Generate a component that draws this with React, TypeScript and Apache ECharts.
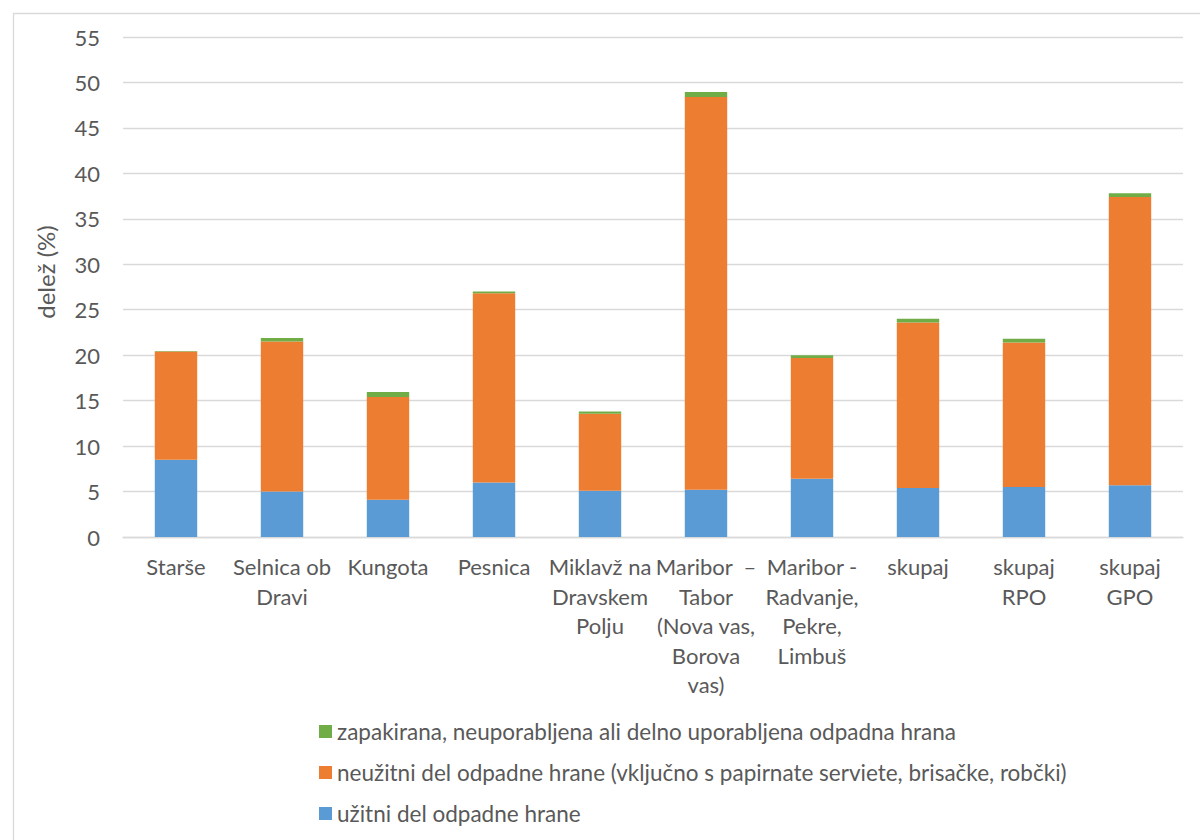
import React, { useEffect, useRef } from "react";
import * as echarts from "echarts";

// Občine / skupine
const categories: string[] = [
  "Starše",
  "Selnica ob\nDravi",
  "Kungota",
  "Pesnica",
  "Miklavž na\nDravskem\nPolju",
  "Maribor  –\nTabor\n(Nova vas,\nBorova\nvas)",
  "Maribor -\nRadvanje,\nPekre,\nLimbuš",
  "skupaj",
  "skupaj\nRPO",
  "skupaj\nGPO",
];

const seriesNames: string[] = [
  "užitni del odpadne hrane",
  "neužitni del odpadne hrane (vključno s papirnate serviete, brisačke, robčki)",
  "zapakirana, neuporabljena ali delno uporabljena odpadna hrana",
];

// Deleži (%)
const uzitni: number[] = [8.5, 5.0, 4.1, 6.0, 5.1, 5.2, 6.4, 5.4, 5.5, 5.7];
const neuzitni: number[] = [11.9, 16.5, 11.3, 20.8, 8.45, 43.2, 13.3, 18.2, 15.9, 31.7];
const zapakirana: number[] = [0.05, 0.4, 0.55, 0.2, 0.25, 0.55, 0.3, 0.4, 0.4, 0.4];

const colors: string[] = ["#5B9BD5", "#ED7D31", "#70AD47"];

const FONT = "Lato, 'Open Sans', sans-serif";
const TEXT = "#595959";
const GRID = "#d9d9d9";

export default function App() {
  const ref = useRef<HTMLDivElement>(null);

  useEffect(() => {
    if (!ref.current) return;
    const chart = echarts.init(ref.current, undefined, { renderer: "svg" });
    const values = [uzitni, neuzitni, zapakirana];

    chart.setOption({
      animation: false,
      backgroundColor: "#ffffff",
      textStyle: { fontFamily: FONT, color: TEXT },
      grid: { left: 123, right: 17, top: 37, bottom: 303 },
      legend: {
        orient: "vertical",
        left: 319,
        top: 720,
        padding: 0,
        itemWidth: 13,
        itemHeight: 13,
        itemGap: 18,
        icon: "rect",
        data: [seriesNames[2], seriesNames[1], seriesNames[0]],
        textStyle: { fontFamily: FONT, fontSize: 22.5, color: TEXT, lineHeight: 22 },
      },
      xAxis: {
        type: "category",
        data: categories,
        axisLine: { show: true, lineStyle: { color: GRID, width: 1.3 } },
        axisTick: { show: false },
        axisLabel: {
          interval: 0,
          margin: 15,
          fontFamily: FONT,
          fontSize: 22,
          lineHeight: 29.5,
          color: TEXT,
          verticalAlign: "top",
        },
      },
      yAxis: {
        type: "value",
        min: 0,
        max: 55,
        interval: 5,
        axisLine: { show: false },
        axisTick: { show: false },
        splitLine: { lineStyle: { color: GRID, width: 1.3 } },
        axisLabel: { margin: 23, fontFamily: FONT, fontSize: 22, color: TEXT },
      },
      graphic: [
        {
          type: "rect",
          left: 11,
          top: 11,
          shape: { x: 0, y: 0, width: 1400, height: 1000 },
          style: { fill: "none", stroke: GRID, lineWidth: 1.3 },
          silent: true,
          z: -10,
        },
        {
          type: "text",
          x: 45,
          y: 272,
          rotation: Math.PI / 2,
          style: {
            text: "delež (%)",
            fontFamily: FONT,
            fontSize: 24,
            fill: TEXT,
            align: "center",
            verticalAlign: "middle",
          },
        },
      ],
      series: seriesNames.map((name, i) => ({
        name,
        type: "bar",
        stack: "total",
        barWidth: "40%",
        data: values[i],
        itemStyle: { color: colors[i] },
      })),
    });

    return () => chart.dispose();
  }, []);

  return (
    <div
      ref={ref}
      style={{ position: "fixed", left: 0, top: 0, width: 1200, height: 840 }}
    />
  );
}
